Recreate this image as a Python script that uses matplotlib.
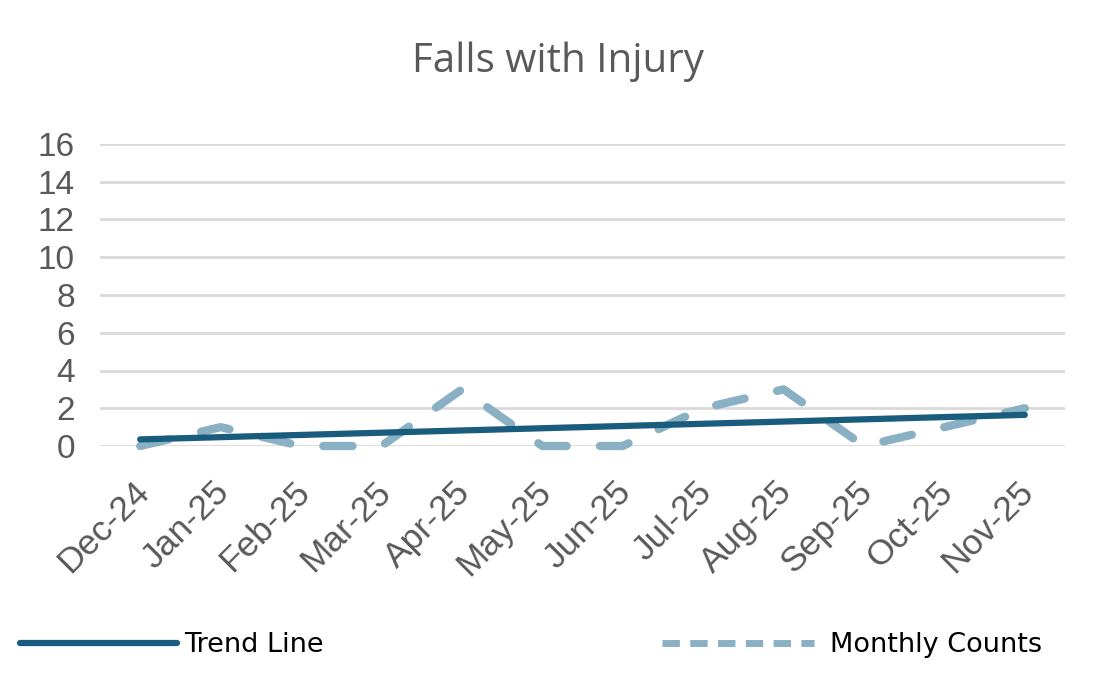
import matplotlib
matplotlib.use("Agg")
import matplotlib.pyplot as plt
import matplotlib.transforms as mtransforms
import numpy as np

# values
months = ["Dec-24", "Jan-25", "Feb-25", "Mar-25", "Apr-25", "May-25",
          "Jun-25", "Jul-25", "Aug-25", "Sep-25", "Oct-25", "Nov-25"]
monthly_counts = [0, 1, 0, 0, 3, 0, 0, 2, 3, 0, 1, 2]
trend_months = ["Dec-24", "Nov-25"]
trend_values = [0.35, 1.65]
y_ticks = [0, 2, 4, 6, 8, 10, 12, 14, 16]

TREND_COL = "#1A5C7E"
COUNT_COL = "#8AB0C4"
TEXT_COL = "#595959"

fig = plt.figure(figsize=(11.15, 6.78), dpi=100)
ax = fig.add_axes([100 / 1115, 1 - 446 / 678, 965 / 1115, 302 / 678])

x = np.arange(len(months))
tx = [months.index(m) for m in trend_months]

ax.plot(x, monthly_counts, color=COUNT_COL, lw=6, dashes=(3.5, 4),
        dash_capstyle="round", solid_capstyle="round", clip_on=False,
        label="Monthly Counts", zorder=3)
ax.plot(tx, trend_values, color=TREND_COL, lw=4.5, solid_capstyle="round",
        clip_on=False, label="Trend Line", zorder=4)

ax.set_xlim(-0.5, len(months) - 0.5)
ax.set_ylim(0, 16)
ax.set_yticks(y_ticks)
ax.set_xticks(x)
ax.set_xticklabels(months, rotation=45, ha="right", rotation_mode="anchor")
ax.tick_params(length=0, colors=TEXT_COL)
ax.tick_params(axis="y", labelsize=24, pad=18)
ax.tick_params(axis="x", labelsize=25.5, pad=16)
for lab in ax.get_yticklabels() + ax.get_xticklabels():
    lab.set_family("Liberation Sans")
# nudge the rotated month labels down-left a little
shift = mtransforms.ScaledTranslation(-8 / 100, -7 / 100, fig.dpi_scale_trans)
for lab in ax.get_xticklabels():
    lab.set_transform(lab.get_transform() + shift)
ax.yaxis.grid(True, color="#D9D9D9", lw=2)
ax.set_axisbelow(True)
for s in ax.spines.values():
    s.set_visible(False)

fig.text(0.5, 1 - 62 / 678, "Falls with Injury", ha="center", va="center",
         fontsize=29, color=TEXT_COL, family="Open Sans")

# legend drawn as two separate entries like the original
h_count, h_trend = ax.get_lines()
leg_font = {"family": "DejaVu Sans", "size": 19.5}
leg1 = fig.legend([h_trend], ["Trend Line"], loc="center left",
                  bbox_to_anchor=(20 / 1115, 1 - 645 / 678), frameon=False,
                  borderpad=0, borderaxespad=0,
                  handlelength=5.8, handletextpad=0.25, prop=leg_font)
leg2 = fig.legend([h_count], ["Monthly Counts"], loc="center left",
                  bbox_to_anchor=(662 / 1115, 1 - 645 / 678), frameon=False,
                  borderpad=0, borderaxespad=0,
                  handlelength=5.6, handletextpad=0.6, prop=leg_font)
for leg in (leg1, leg2):
    for t in leg.get_texts():
        t.set_color("black")
leg2.get_lines()[0].set_linewidth(5)
leg2.get_lines()[0].set_dashes((2.5, 1.5))
leg2.get_lines()[0].set_dash_capstyle("butt")

fig.savefig("out.png", dpi=100)
